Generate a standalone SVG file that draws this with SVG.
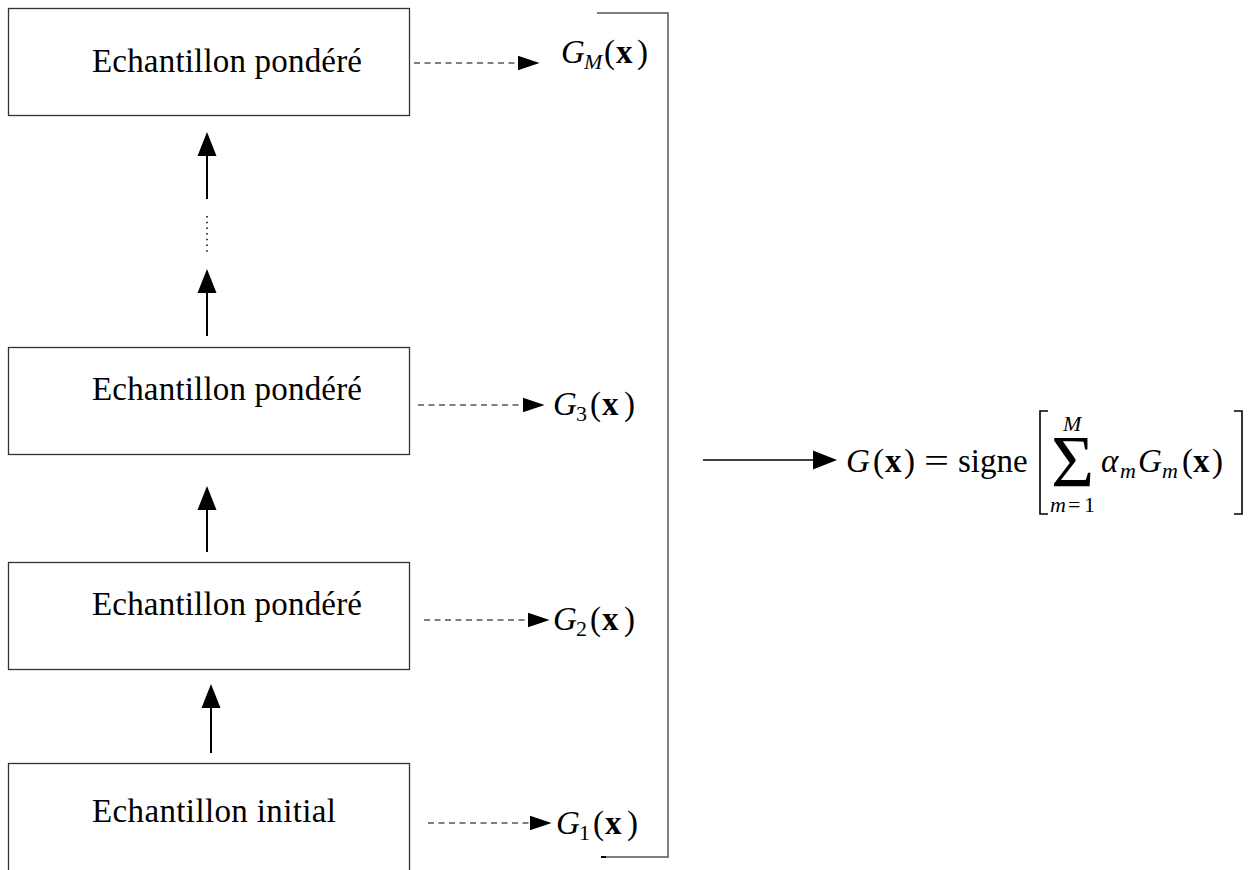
<svg xmlns="http://www.w3.org/2000/svg" width="1253" height="870" viewBox="0 0 1253 870" font-family="Liberation Serif, DejaVu Serif, Times New Roman, Times, serif">
  <style>
    .box { fill: #ffffff; stroke: #333333; stroke-width: 1.3; }
    .lbl, .m { font-family: "Liberation Serif", "DejaVu Serif", "Noto Serif", "Times New Roman", Times, FreeSerif, serif; font-size: 33px; fill: #000000; }
    .it { font-style: italic; }
    .bf { font-weight: bold; }
    .sub { font-size: 22px; }
    .up { stroke: #000000; stroke-width: 2; fill: none; }
    .dash { stroke: #000000; stroke-width: 1; stroke-dasharray: 6 4.5; fill: none; }
    .brace { stroke: #555555; stroke-width: 1.5; fill: none; }
    .delim { stroke: #000000; stroke-width: 1.6; fill: none; }
  </style>
  <defs>
    <marker id="head" viewBox="0 -10 24 20" refX="0" refY="0" markerWidth="24" markerHeight="20" markerUnits="userSpaceOnUse" orient="auto">
      <path d="M0,-9.5 L24,0 L0,9.5 Z" fill="#000000" stroke="none"/>
    </marker>
    <marker id="headSmall" viewBox="0 -10 24 20" refX="0" refY="0" markerWidth="24" markerHeight="18" markerUnits="userSpaceOnUse" orient="auto">
      <path d="M0,-8 L24,0 L0,8 Z" fill="#000000" stroke="none"/>
    </marker>
  </defs>

  <rect width="1253" height="870" fill="#ffffff"/>

  <!-- sample boxes -->
  <g id="sample-M">
    <rect class="box" x="8.5" y="8.5" width="401" height="107"/>
    <text class="lbl" x="92" y="72" textLength="270">Echantillon pondéré</text>
  </g>
  <g id="sample-3">
    <rect class="box" x="8.5" y="347.5" width="401" height="107"/>
    <text class="lbl" x="92" y="400" textLength="270">Echantillon pondéré</text>
  </g>
  <g id="sample-2">
    <rect class="box" x="8.5" y="562.5" width="401" height="107"/>
    <text class="lbl" x="92" y="615" textLength="270">Echantillon pondéré</text>
  </g>
  <g id="sample-1">
    <rect class="box" x="8.5" y="763.5" width="401" height="120"/>
    <text class="lbl" x="92" y="822" textLength="244">Echantillon initial</text>
  </g>

  <!-- classifier outputs -->
  <g id="out-M">
    <text class="m it" x="561" y="63">G</text>
    <text class="m it sub" x="584" y="69">M</text>
    <text class="m" x="604" y="63">(</text>
    <text class="m bf" x="616" y="63">x</text>
    <text class="m" x="637" y="63">)</text>
  </g>
  <g id="out-3">
    <text class="m it" x="553" y="415">G</text>
    <text class="m sub" x="576" y="421">3</text>
    <text class="m" x="590" y="415">(</text>
    <text class="m bf" x="602" y="415">x</text>
    <text class="m" x="624" y="415">)</text>
  </g>
  <g id="out-2">
    <text class="m it" x="553" y="630">G</text>
    <text class="m sub" x="576" y="636">2</text>
    <text class="m" x="590" y="630">(</text>
    <text class="m bf" x="602" y="630">x</text>
    <text class="m" x="624" y="630">)</text>
  </g>
  <g id="out-1">
    <text class="m it" x="556" y="834">G</text>
    <text class="m sub" x="579" y="840">1</text>
    <text class="m" x="593" y="834">(</text>
    <text class="m bf" x="605" y="834">x</text>
    <text class="m" x="627" y="834">)</text>
  </g>

  <!-- final combined classifier -->
  <g id="final">
    <text class="m it" x="846" y="472">G</text>
    <text class="m" x="873" y="472">(</text>
    <text class="m bf" x="885" y="472">x</text>
    <text class="m" x="904" y="472">)</text>
    <text class="m" x="924" y="472" textLength="25" lengthAdjust="spacingAndGlyphs">=</text>
    <text class="m" x="958" y="472">signe</text>
    <polyline class="delim" points="1048,411 1040,411 1040,514 1048,514"/>
    <!-- summation operator with its limits -->
    <text class="m"><tspan x="1051" y="487" style="font-size:74px">Σ</tspan><tspan class="it" x="1063" y="431" style="font-size:22px">M</tspan><tspan class="it" x="1050" y="512" style="font-size:22px">m</tspan><tspan x="1068" y="512" style="font-size:22px">=</tspan><tspan x="1084" y="512" style="font-size:22px">1</tspan></text>
    <text class="m it" x="1101" y="472">α</text>
    <text class="m it sub" x="1120" y="478">m</text>
    <text class="m it" x="1138" y="472">G</text>
    <text class="m it sub" x="1162" y="478">m</text>
    <text class="m" x="1182" y="472">(</text>
    <text class="m bf" x="1193" y="472">x</text>
    <text class="m" x="1212" y="472">)</text>
    <polyline class="delim" points="1234,411 1242,411 1242,514 1234,514"/>
  </g>

  <!-- connectors -->
  <g id="connectors">
    <!-- reweighting steps -->
    <line class="up" x1="211" y1="753" x2="211" y2="708" marker-end="url(#head)"/>
    <line class="up" x1="207" y1="552" x2="207" y2="510" marker-end="url(#head)"/>
    <line class="up" x1="207" y1="336" x2="207" y2="293" marker-end="url(#head)"/>
    <line class="up" x1="207" y1="199" x2="207" y2="156" marker-end="url(#head)"/>
    <line x1="207" y1="216" x2="207" y2="253" stroke="#000000" stroke-width="1.5" stroke-dasharray="1.5 4.2"/>

    <!-- weak learners -->
    <line class="dash" x1="414" y1="63" x2="518" y2="63" marker-end="url(#headSmall)"/>
    <line class="dash" x1="418" y1="405" x2="523" y2="405" marker-end="url(#headSmall)"/>
    <line class="dash" x1="424" y1="620" x2="528" y2="620" marker-end="url(#headSmall)"/>
    <line class="dash" x1="428" y1="823" x2="530" y2="823" marker-end="url(#headSmall)"/>

    <!-- grouping bracket -->
    <polyline class="brace" points="597,13 668,13 668,857 602,857"/>
    <line x1="601" y1="857" x2="606" y2="857" stroke="#000000" stroke-width="2"/>

    <!-- aggregation -->
    <line class="up" x1="703" y1="460" x2="813" y2="460" style="stroke-width:1.6" marker-end="url(#head)"/>
  </g>
</svg>
